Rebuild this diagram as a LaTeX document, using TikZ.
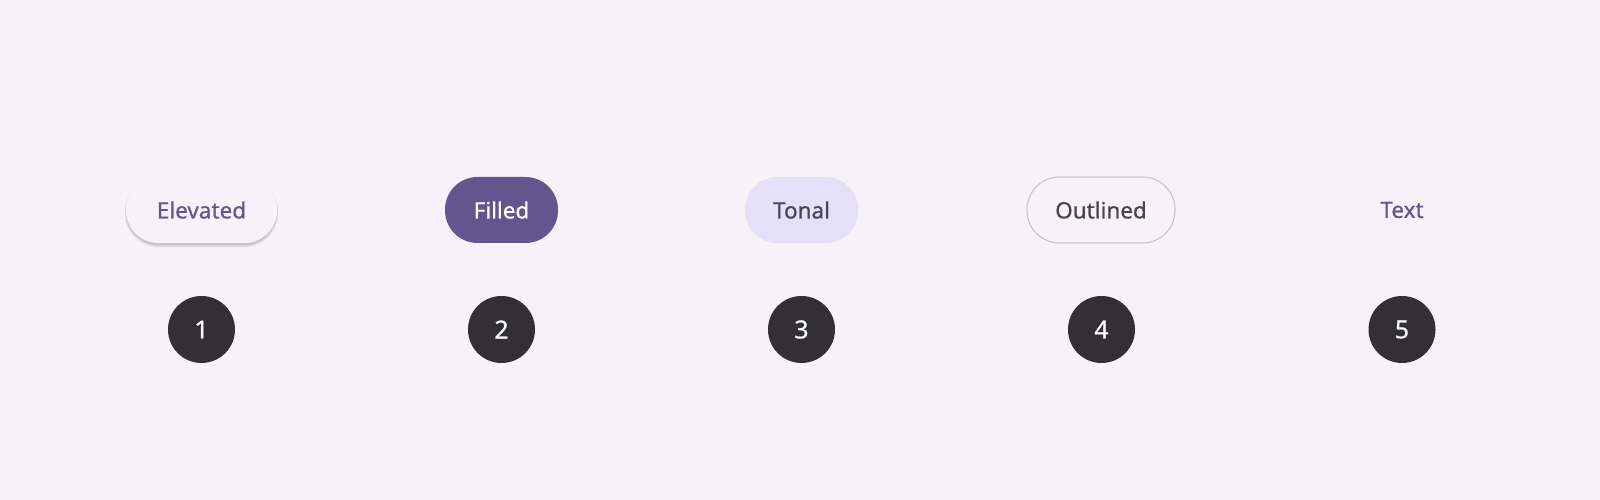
\documentclass[tikz,border=0pt]{standalone}
\usepackage{fontspec}
\setmainfont{Noto Sans}
\newfontfamily\medfont{Noto Sans}[FakeBold=0.6]
\usetikzlibrary{shadows}
\definecolor{bg}{HTML}{F7F2F9}
\definecolor{prim}{HTML}{65558F}
\definecolor{tonal}{HTML}{E4E0F7}
\definecolor{outl}{HTML}{CAC4D0}
\definecolor{ink}{HTML}{49454F}
\definecolor{badge}{HTML}{322F35}
\definecolor{elev}{HTML}{F7F2FA}
\tikzset{
  x=1pt,y=1pt,
  btn/.style={rectangle, rounded corners=32.5pt, minimum height=66pt, inner sep=0pt, font=\medfont\fontsize{22.5}{26}\selectfont},
  num/.style={circle, fill=badge, minimum size=67pt, inner sep=0pt, text=white, font=\medfont\fontsize{25}{29}\selectfont},
}
\begin{document}
\begin{tikzpicture}
\fill[bg] (0,0) rectangle (1600,500);
\useasboundingbox (0,0) rectangle (1600,500);
% shadow for elevated button
\foreach \o/\s in {0.05/3.5,0.06/2.5,0.08/1.5} {
  \fill[black, opacity=\o, rounded corners=34pt] (201.5-75.5-\s*0.3,290-33-\s-1) rectangle (201.5+75.5+\s*0.3,290+33-\s*0.2);
}
\node[btn, fill=elev, minimum width=151pt, text=prim] (b1) at (201.5,290) {Elevated};
\node[btn, fill=prim, minimum width=113pt, text=white] (b2) at (501.5,290) {Filled};
\node[btn, fill=tonal, minimum width=113pt, text=ink] (b3) at (801.5,290) {Tonal};
\node[btn, draw=outl, line width=1.2pt, minimum width=148pt, text=ink] (b4) at (1101,290) {Outlined};
\node[btn, text=prim] (b5) at (1402,290) {Text};
\node[num] (n1) at (201.5,170.5) {1};
\node[num] (n2) at (501.5,170.5) {2};
\node[num] (n3) at (801.5,170.5) {3};
\node[num] (n4) at (1101.5,170.5) {4};
\node[num] (n5) at (1402,170.5) {5};
\end{tikzpicture}
\end{document}
